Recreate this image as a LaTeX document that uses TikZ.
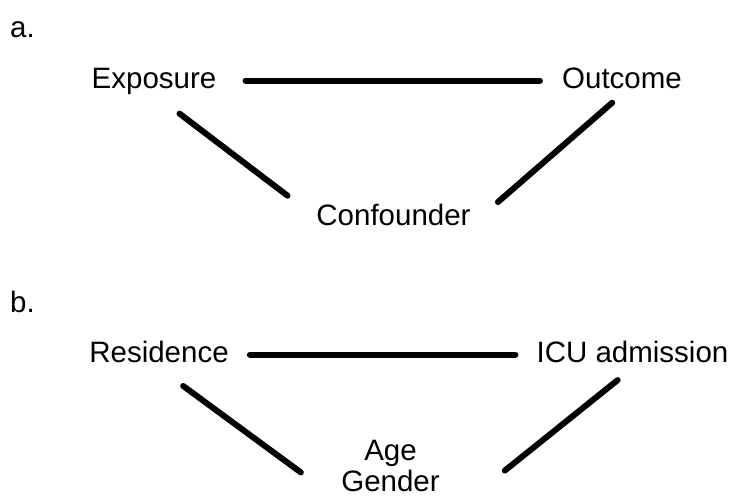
\documentclass[tikz,border=0pt]{standalone}
\usepackage{fontspec}
\setmainfont{Liberation Sans}
\usetikzlibrary{positioning,calc}

\tikzset{
  lbl/.style={inner sep=0pt, font=\fontsize{29.5}{33}\selectfont, text height=21pt, text depth=6pt},
  panel/.style={inner sep=0pt, anchor=base west, font=\fontsize{29.5}{33}\selectfont},
  link/.style={line width=6pt, line cap=round}
}

\begin{document}
\begin{tikzpicture}[x=1pt,y=-1pt]
\useasboundingbox (0,0) rectangle (731,499);

% --- a. exposure / outcome / confounder ---
\node[panel] (pa) at (10,37) {a.};
\node[lbl, anchor=base] (expo) at (154,88) {Exposure};
\node[lbl, anchor=base] (outc) at (622,88) {Outcome};
\node[lbl, anchor=base] (conf) at (393.5,225) {Confounder};

\draw[link, shorten <=29pt, shorten >=22pt] (expo.east) -- (expo.east -| outc.west);
\draw[link, shorten <=32pt, shorten >=36pt] (expo.south) -- (conf.west);
\draw[link, shorten <=13pt, shorten >=36pt] (outc.south) -- (conf.-6);

% --- b. residence / ICU admission / age, gender ---
\node[panel] (pb) at (10,312) {b.};
\node[lbl, anchor=base] (res) at (159,362) {Residence};
\node[lbl, anchor=base] (icu) at (632.5,362) {ICU admission};
\node[inner sep=0pt, align=center, anchor=north, font=\fontsize{29.5}{31}\selectfont] (ag) at (390.5,440) {Age\\Gender};

\draw[link, shorten <=21pt, shorten >=21pt] (res.east) -- (res.east -| icu.west);
\draw[link, shorten <=30pt, shorten >=50pt] (res.south) -- ($(ag.south west)+(0,10)$);
\draw[link, shorten <=19pt, shorten >=55pt] (icu.south) -- ($(ag.south east)+(22,13)$);

\end{tikzpicture}
\end{document}
